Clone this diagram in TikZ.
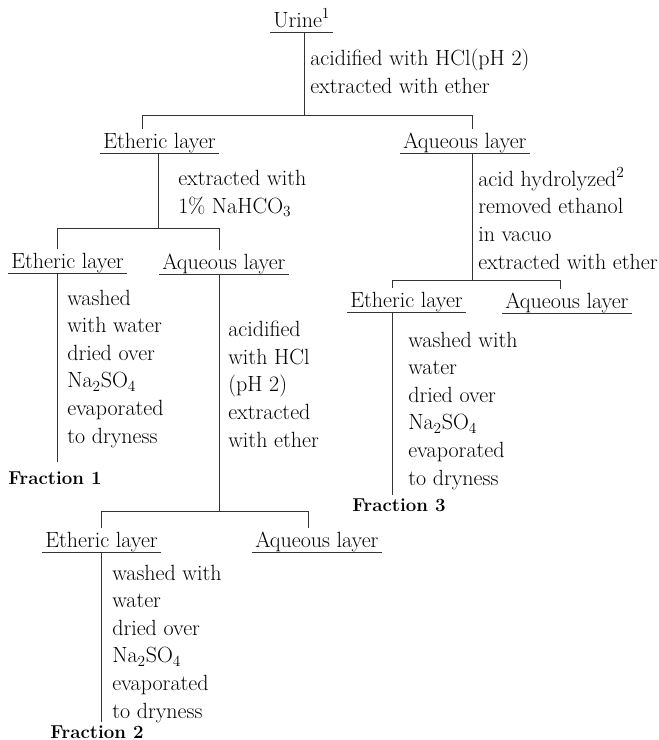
\documentclass[tikz,border=0pt]{standalone}
\usepackage{tikz}
\usetikzlibrary{calc}
\newcommand{\lnode}[3]{\node(#1)[layer] at (#2){#3}}
\newcommand{\tnode}[3]{\node(#1)[note] at (#2){#3}}
\newcommand{\fnode}[3]{\node(#1)[frac] at (#2){#3}}
\newcommand{\nasulf}{Na\textsubscript{2}SO\textsubscript{4}}

\begin{document}
\begin{tikzpicture}[
        x=0.75pt,y=-0.75pt,
        every node/.style={font=\fontsize{16.5}{20.7}\selectfont},
        layer/.style={anchor=base west,inner xsep=2.25pt,inner ysep=0.8pt,
                      text height=13pt,text depth=3.2pt},
        note/.style={anchor=base west,inner sep=0pt,align=left},
        frac/.style={anchor=base west,inner xsep=0pt,inner ysep=2pt,
                     font=\fontsize{14}{16}\selectfont\bfseries},
        link/.style={draw=black!80,line width=0.6pt}
      ]
      \useasboundingbox (0,0) rectangle (659,740);
      \lnode{U}{270,27}{Urine\textsuperscript{1}};
      \lnode{E1}{100,148}{Etheric layer};
      \lnode{A1}{400,148}{Aqueous layer};
      \lnode{E2}{8,268}{Etheric layer};
      \lnode{A2}{159,269}{Aqueous layer};
      \lnode{E4}{347,307}{Etheric layer};
      \lnode{A4}{502,308}{Aqueous layer};
      \lnode{E3}{42,547}{Etheric layer};
      \lnode{A3}{252,547}{Aqueous layer};
      % base anchor of a note = baseline of its last line
      \tnode{N0}{310,93}{acidified with HCl(pH 2)\\extracted with ether};
      \tnode{N1}{178,213}{extracted with\\1\% NaHCO\textsubscript{3}};
      \tnode{N2}{478,269}{acid hydrolyzed\textsuperscript{2}\\removed ethanol\\in vacuo\\extracted with ether};
      \tnode{N3}{67,443}{washed\\with water\\dried over\\\nasulf\\evaporated\\to dryness};
      \tnode{N4}{228,447}{acidified\\with HCl\\(pH 2)\\extracted\\with ether};
      \tnode{N5}{408,485}{washed with\\water\\dried over\\\nasulf\\evaporated\\to dryness};
      \tnode{N6}{112,718}{washed with\\water\\dried over\\\nasulf\\evaporated\\to dryness};
      \fnode{F1}{8,484}{Fraction 1};
      \fnode{F3}{352,511}{Fraction 3};
      \fnode{F2}{50,738}{Fraction 2};
      \coordinate (j0) at (304,115); \coordinate (j0l) at (142,115); \coordinate (j0r) at (472,115);
      \coordinate (j1) at (158,228); \coordinate (j1l) at (57,228); \coordinate (j1r) at (219,228);
      \coordinate (j2) at (472,280); \coordinate (j2l) at (392,280); \coordinate (j2r) at (560,280);
      \coordinate (j3) at (219,511); \coordinate (j3l) at (101,511); \coordinate (j3r) at (308,511);
      \foreach \n in {U,E1,A1,E2,A2,E4,A4,E3,A3}
        \draw[link] (\n.south west) -- (\n.south east);
      \draw[link] (U.south -| j0) -- (j0);
      \draw[link] (E1.north -| j0l) -- (j0l) -- (j0r) -- (A1.north -| j0r);
      \draw[link] (E1.south -| j1) -- (j1);
      \draw[link] (E2.north -| j1l) -- (j1l) -- (j1r) -- (A2.north -| j1r);
      \draw[link] (A1.south -| j2) -- (j2);
      \draw[link] (E4.north -| j2l) -- (j2l) -- (j2r) -- (A4.north -| j2r);
      \draw[link] (A2.south -| j3) -- (j3);
      \draw[link] (E3.north -| j3l) -- (j3l) -- (j3r) -- (A3.north -| j3r);
      \draw[link,shorten >=5pt] (E2.south -| j1l) -- (F1.north -| j1l);
      \draw[link] (E4.south -| j2l) -- (F3.north -| j2l);
      \draw[link] (E3.south -| j3l) -- (F2.north -| j3l);
    \end{tikzpicture}
\end{document}
